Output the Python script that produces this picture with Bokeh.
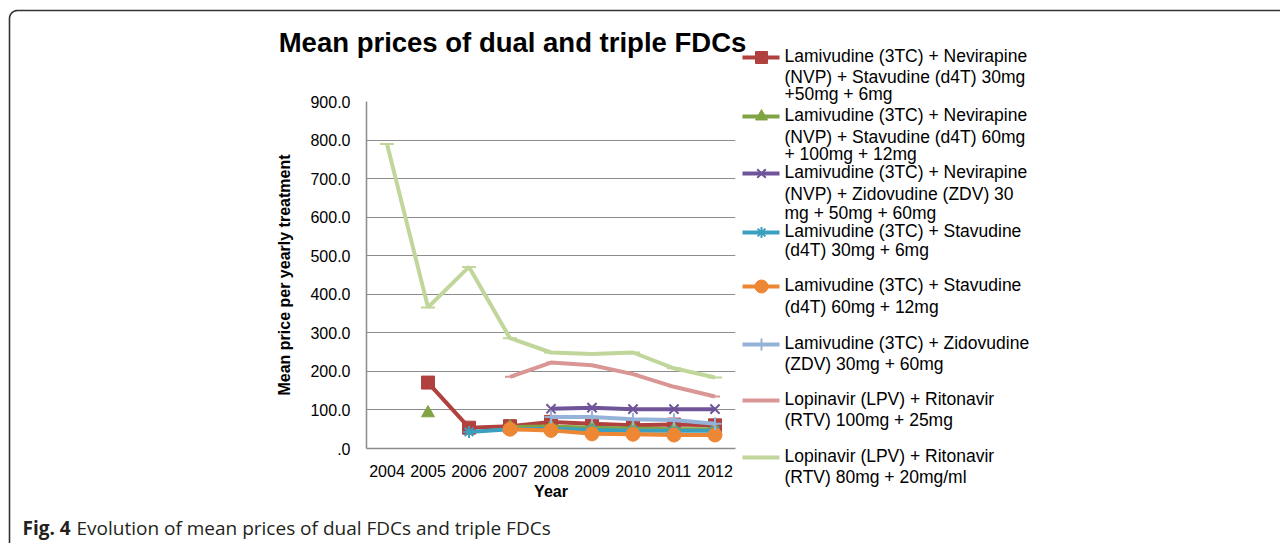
import math
from bokeh.plotting import figure
from bokeh.models import FixedTicker, NumeralTickFormatter, Range1d, GridBox
from bokeh.core.properties import value
from bokeh.embed import file_html
from bokeh.resources import INLINE

NaN = float("nan")

years = ["2004", "2005", "2006", "2007", "2008", "2009", "2010", "2011", "2012"]
y_ticks = [0, 100, 200, 300, 400, 500, 600, 700, 800, 900]

s_3tc_nvp_d4t_30 = [NaN, 171, 54, 58, 69, 64, 60, 62, 60]
s_3tc_nvp_d4t_60 = [NaN, 92, NaN, 56, 57, 54, 52, 50, 50]
s_3tc_nvp_zdv = [NaN, NaN, NaN, NaN, 103, 106, 102, 102, 102]
s_3tc_d4t_30 = [NaN, NaN, 43, 50, 51, 48, 46, 46, 46]
s_3tc_d4t_60 = [NaN, NaN, NaN, 50, 47, 38, 37, 35, 35]
s_3tc_zdv = [NaN, NaN, NaN, NaN, 82, 82, 76, 74, 64]
s_lpv_100 = [NaN, NaN, NaN, 186, 223, 216, 193, 160, 135]
s_lpv_80 = [790, 366, 471, 286, 249, 245, 249, 208, 184]

legend_labels = [
    ["Lamivudine (3TC) + Nevirapine", "(NVP) + Stavudine (d4T) 30mg", "+50mg + 6mg"],
    ["Lamivudine (3TC) + Nevirapine", "(NVP) + Stavudine (d4T) 60mg", "+ 100mg + 12mg"],
    ["Lamivudine (3TC) + Nevirapine", "(NVP) + Zidovudine (ZDV) 30", "mg + 50mg + 60mg"],
    ["Lamivudine (3TC) + Stavudine", "(d4T) 30mg + 6mg"],
    ["Lamivudine (3TC) + Stavudine", "(d4T) 60mg + 12mg"],
    ["Lamivudine (3TC) + Zidovudine", "(ZDV) 30mg + 60mg"],
    ["Lopinavir (LPV) + Ritonavir", "(RTV) 100mg + 25mg"],
    ["Lopinavir (LPV) + Ritonavir", "(RTV) 80mg + 20mg/ml"],
]
title_text = "Mean prices of dual and triple FDCs"
caption_bold = "Fig. 4"
caption_text = "Evolution of mean prices of dual FDCs and triple FDCs"

series = [s_3tc_nvp_d4t_30, s_3tc_nvp_d4t_60, s_3tc_nvp_zdv, s_3tc_d4t_30,
          s_3tc_d4t_60, s_3tc_zdv, s_lpv_100, s_lpv_80]
colors = ["#B0413E", "#80A443", "#6F5499", "#3B9FBF", "#EE8733", "#95B2D8", "#D99694", "#C0D69A"]
markers = ["square", "triangle", "x", "asterisk", "circle", "cross", "dash", "dash"]
msizes = [13, 13, 13, 12, 14, 13, 10, 14]
leg_msizes = [12, 12, 12, 11, 13, 12, 0, 0]
leg_line_y = [[55, 76, 93], [114, 136, 153], [171, 193, 212], [230, 249],
              [284, 306], [342, 363], [398, 419], [455, 476]]

FONT = "Liberation Sans"
W, H = 1280, 543
FL, FR, FT, FB = 366, 735, 101, 448  # plot frame in page pixels

# ---------- background canvas: title, legend, caption, border ----------
bg = figure(width=W, height=H, x_range=Range1d(0, W), y_range=Range1d(H, 0),
            min_border=0, output_backend="svg", toolbar_location=None)
bg.axis.visible = False
bg.grid.grid_line_color = None
bg.outline_line_color = None

bg.text(x=[512], y=[42], text=[title_text], text_font=value(FONT), text_font_size="27.5px",
        text_font_style="bold", text_align="center", text_baseline="middle", text_color="#000000")

for lines, c, m, ms, ys in zip(legend_labels, colors, markers, leg_msizes, leg_line_y):
    sy = ys[0] + 2
    bg.line([742, 779], [sy, sy], line_color=c, line_width=4)
    if ms:
        lw = 2 if m in ("x", "asterisk", "cross") else 1
        bg.scatter([761], [sy], marker=m, size=ms, fill_color=c, line_color=c, line_width=lw)
    bg.text(x=[784] * len(lines), y=ys, text=lines, text_font=value(FONT), text_font_size="17.5px",
            text_align="left", text_baseline="middle", text_color="#000000")

bg.text(x=[22], y=[527], text=[caption_bold], text_font=value("Open Sans"), text_font_size="19px",
        text_font_style="bold", text_baseline="middle", text_color="#231f20")
bg.text(x=[76], y=[527], text=[caption_text], text_font=value("Open Sans"), text_font_size="19px",
        text_baseline="middle", text_color="#231f20")

# rounded frame border (decoration)
r = 8
bx = [9, 9]
by = [H + 5, 10 + r]
for k in range(1, 10):
    a = math.pi + k * (math.pi / 2) / 10
    bx.append(9 + r + r * math.cos(a))
    by.append(10 + r + r * math.sin(a))
bx += [9 + r, W + 5]
by += [10, 10]
bg.line(bx, by, line_color="#333333", line_width=1.6)

# ---------- chart ----------
p = figure(x_range=years, y_range=Range1d(0, 900), width=W, height=H,
           min_border_left=FL, min_border_right=W - FR,
           min_border_top=FT, min_border_bottom=H - FB,
           output_backend="svg", toolbar_location=None)
p.background_fill_alpha = 0
p.border_fill_alpha = 0
p.outline_line_color = None
p.xgrid.grid_line_color = None
p.ygrid.grid_line_color = "#8c8c8c"
p.ygrid.grid_line_width = 1.2
p.ygrid.ticker = FixedTicker(ticks=y_ticks)

p.yaxis.ticker = FixedTicker(ticks=y_ticks)
p.yaxis.formatter = NumeralTickFormatter(format="0.0")
p.yaxis.major_label_overrides = {0: ".0"}
for ax in (p.xaxis[0], p.yaxis[0]):
    ax.axis_line_color = "#8c8c8c"
    ax.axis_line_width = 1.5
    ax.major_tick_line_color = None
    ax.minor_tick_line_color = None
    ax.major_label_text_font = FONT
    ax.major_label_text_font_size = "16px"
    ax.major_label_text_color = "#000000"
    ax.axis_label_text_font = FONT
    ax.axis_label_text_font_size = "16px"
    ax.axis_label_text_font_style = "bold"
    ax.axis_label_text_color = "#000000"
p.yaxis.axis_label = "Mean price per yearly treatment"
p.yaxis.major_label_standoff = 10
p.yaxis.axis_label_standoff = 14
p.xaxis.axis_label = "Year"
p.xaxis.major_label_standoff = 10
p.xaxis.axis_label_standoff = 3

for vals, c, m, ms in zip(series, colors, markers, msizes):
    p.line(years, vals, line_color=c, line_width=4)
    lw = 2 if m in ("x", "asterisk", "cross", "dash") else 1
    p.scatter(years, vals, marker=m, size=ms, fill_color=c, line_color=c, line_width=lw)

for f in (bg, p):
    if hasattr(f, "frame_align"):
        f.frame_align = False

layout = GridBox(children=[(bg, 0, 0), (p, 0, 0)])
open("out.html", "w").write(file_html(layout, INLINE))
